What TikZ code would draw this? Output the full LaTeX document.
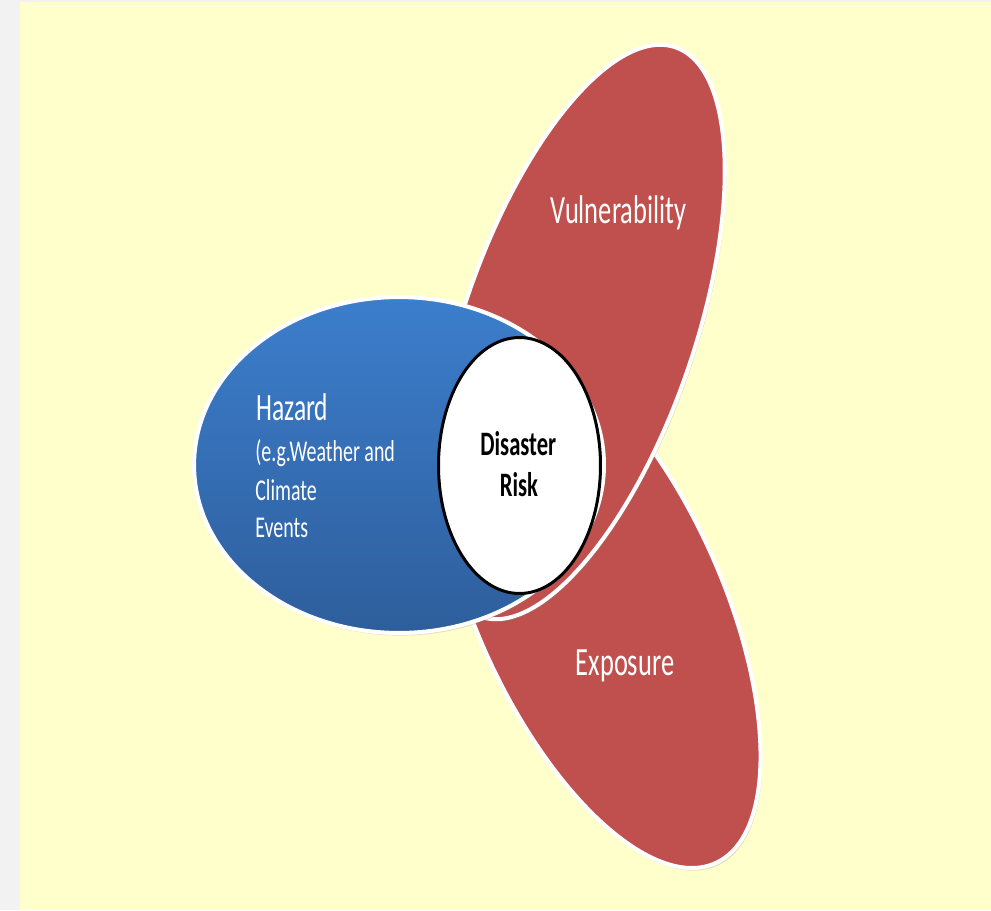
\documentclass[tikz,border=0pt]{standalone}
\usepackage{graphicx}
\usepackage{fontspec}
\setmainfont{Carlito}
\usetikzlibrary{shapes.geometric,shadows}

\definecolor{bgyellow}{RGB}{255,255,204}
\definecolor{bggray}{RGB}{242,242,242}
\definecolor{ovalred}{RGB}{192,80,77}
\definecolor{hazardtop}{RGB}{60,126,204}
\definecolor{hazardbottom}{RGB}{46,94,156}
\newcommand{\squeeze}[1]{\scalebox{0.66}[1]{#1}}

\begin{document}
\begin{tikzpicture}[
    x = 0.02cm, y = -0.02cm,
    oval/.style = {
      ellipse, draw = white, line width = 2.3pt, inner sep = 0pt,
      drop shadow = {shadow xshift = 1pt, shadow yshift = -1.5pt, opacity = .25}
    },
    txt/.style    = {inner sep = 0pt, text = white},
    bigtxt/.style = {txt, font = \fontsize{22.8}{27}\selectfont},
    subtxt/.style = {txt, anchor = base west, font = \fontsize{17.2}{20}\selectfont}
  ]
  % background
  \fill[bggray] (0,0) rectangle (991,910);
  \fill[bgyellow] (20,2) rectangle (991,910);
  \useasboundingbox (0,0) rectangle (991,910);

  % the three ovals
  \node[oval, fill = ovalred, minimum width = 11.4cm, minimum height = 4.92cm,
        rotate = -65.75] (expo) at (598.5,603.3) {};
  \node[oval, fill = ovalred, minimum width = 12.04cm, minimum height = 4.64cm,
        rotate = 71.1] (vuln) at (578,332) {};
  \node[oval, top color = hazardtop, bottom color = hazardbottom,
        minimum width = 8.2cm, minimum height = 6.72cm] (haz) at (399,465) {};

  % the overlap in the middle
  \node[ellipse, draw, line width = 1.7pt, fill = white, inner sep = 0pt,
        minimum width = 3.24cm, minimum height = 5.12cm] (risk) at (519.5,465.5) {};

  % The labels
  \node[bigtxt, anchor = base] (vulntxt) at (618.5,223) {\squeeze{Vulnerability}};
  \node[bigtxt, anchor = base] (expotxt) at (625,675)   {\squeeze{Exposure}};

  \node[txt, anchor = base west, font = \fontsize{22}{26}\selectfont]
        (haztxt) at (256,420) {\squeeze{Hazard}};
  \node[subtxt] (hazeg)    at (255,461.7) {\squeeze{(e.g.Weather and}};
  \node[subtxt] (hazclim)  at (255,500)   {\squeeze{Climate}};
  \node[subtxt] (hazevent) at (255,537)   {\squeeze{Events}};

  \node[inner sep = 0pt, anchor = base, font = \bfseries\fontsize{19.5}{23}\selectfont]
        (risktop) at (518.3,455) {\squeeze{Disaster}};
  \node[inner sep = 0pt, anchor = base, font = \bfseries\fontsize{19.5}{23}\selectfont]
        (riskbot) at (519,496.7) {\squeeze{Risk}};
\end{tikzpicture}
\end{document}
